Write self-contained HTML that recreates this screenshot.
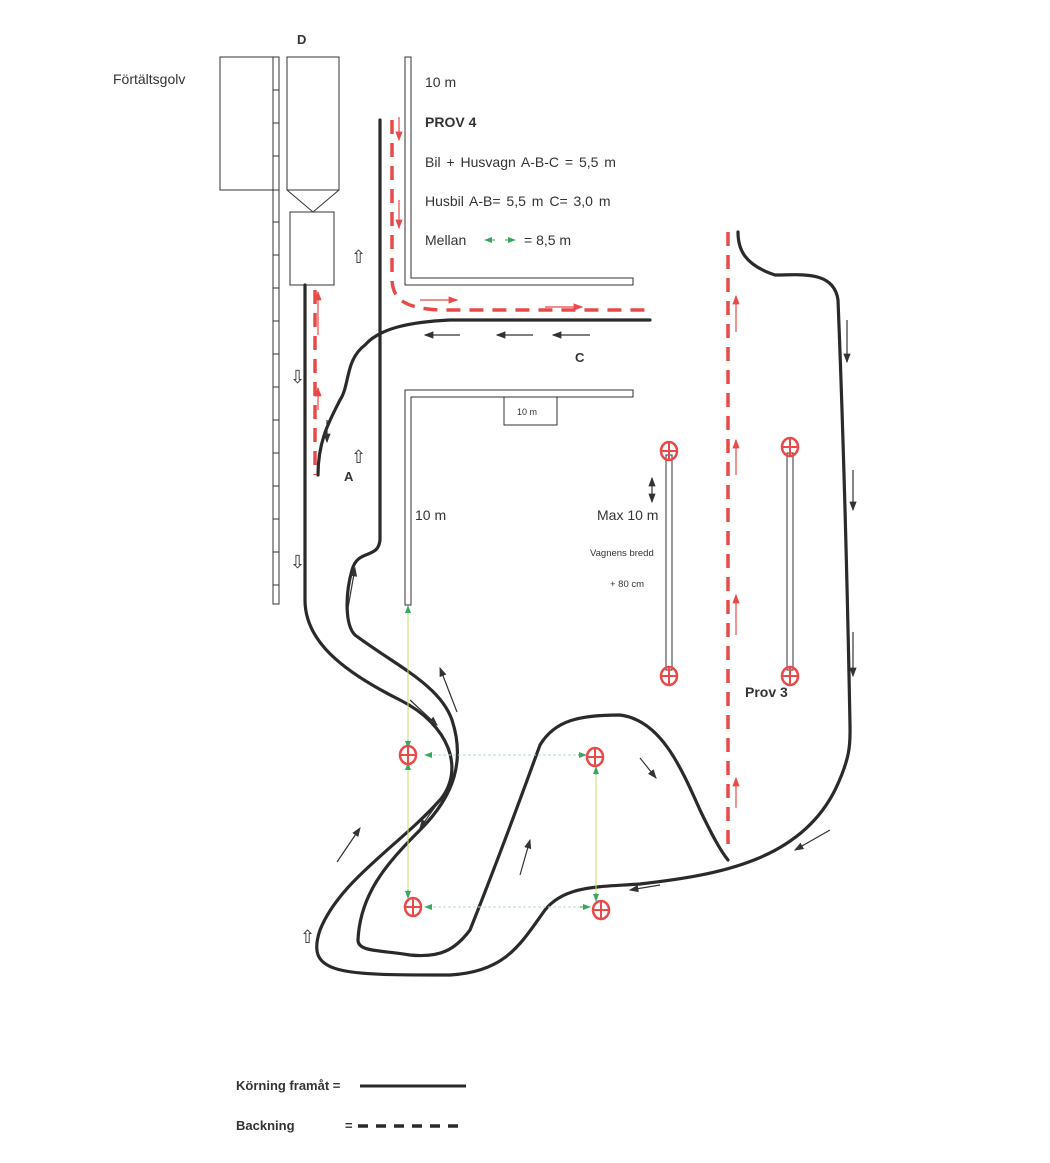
<!DOCTYPE html>
<html><head><meta charset="utf-8"><style>
body{margin:0;background:#fff}
svg{display:block}
text{font-family:"Liberation Sans",sans-serif;fill:#333}
</style></head><body>
<svg width="1050" height="1163" viewBox="0 0 1050 1163" xmlns="http://www.w3.org/2000/svg">
<defs>
<marker id="ab" markerWidth="8" markerHeight="8" refX="7" refY="4" orient="auto"><path d="M0,1 L8,4 L0,7 z" fill="#333"/></marker>
<marker id="ar" markerWidth="8" markerHeight="8" refX="7" refY="4" orient="auto"><path d="M0,1 L8,4 L0,7 z" fill="#e84a4a"/></marker>
<marker id="ag" markerWidth="8" markerHeight="8" refX="7" refY="4" orient="auto"><path d="M0,1 L8,4 L0,7 z" fill="#3aa860"/></marker>
<g id="cp"><ellipse cx="0" cy="0" rx="8" ry="9" fill="none" stroke="#e84a4a" stroke-width="2.5"/><path d="M-8,0H8M0,-9V9" stroke="#e84a4a" stroke-width="2"/></g>
</defs>
<g fill="none" stroke="#333" stroke-width="1">
<rect x="220" y="57" width="53" height="133"/>
<rect x="273" y="57" width="6" height="547"/>
<path d="M273,90h6M273,123h6M273,156h6M273,190h6M273,222h6M273,255h6M273,288h6M273,321h6M273,354h6M273,387h6M273,420h6M273,453h6M273,486h6M273,519h6M273,552h6M273,585h6"/>
<rect x="287" y="57" width="52" height="133"/>
<path d="M287,190 L313,212 L339,190"/>
<rect x="290" y="212" width="44" height="73"/>
<path d="M405,57 H411 V278 H633 V285 H405 Z"/>
<path d="M405,605 H411 V397 H633 V390 H405 Z"/>
<rect x="504" y="397" width="53" height="28"/>
<rect x="666" y="455" width="6" height="215"/>
<rect x="787" y="453" width="6" height="217"/>
</g>
<g fill="none" stroke="#2a2a2a" stroke-width="3.2" stroke-linecap="round">
<path d="M305,285 V600 C305,640 340,670 400,700 C450,725 465,770 440,800 C400,845 340,880 320,930 C305,975 340,975 450,975 C505,972 520,945 545,910 C565,885 600,887 640,884 C720,875 800,860 835,790 C852,755 850,740 850,725 C848,620 844,450 838,300 C834,270 800,275 775,275 C745,265 738,250 738,232"/>
<path d="M318,475 C318,440 330,420 340,400 C350,385 345,360 365,345 C380,328 410,322 450,320 H650"/>
<path d="M380,120 V540 C378,560 358,548 352,570 C345,595 345,625 355,635 C395,665 440,685 452,720 C465,760 455,795 420,830 C385,865 360,895 358,940 C358,952 380,950 410,955 C440,958 455,950 470,930 C490,880 520,800 540,745 C555,720 580,715 620,715 C660,720 680,765 700,810 C712,835 720,850 728,860"/>
</g>
<g fill="none" stroke="#e84a4a" stroke-width="3.5" stroke-dasharray="14,9">
<path d="M392,120 V280 C393,300 405,308 440,310 H650"/>
<path d="M315,290 V475"/>
<path d="M728,232 V845"/>
</g>
<g fill="none" stroke="#c8dc6a" stroke-width="1">
<path d="M408,612 V748"/><path d="M408,765 V898"/><path d="M596,768 V900"/>
</g>
<g fill="none" stroke="#b8d8d0" stroke-width="1" stroke-dasharray="3,2">
<path d="M428,755 H585"/><path d="M428,907 H588"/>
</g>
<g stroke="#3aa860" stroke-width="1" fill="none">
<path d="M408,612 V606" marker-end="url(#ag)"/>
<path d="M408,740 V748" marker-end="url(#ag)"/>
<path d="M408,770 V763" marker-end="url(#ag)"/>
<path d="M408,890 V898" marker-end="url(#ag)"/>
<path d="M432,755 H425" marker-end="url(#ag)"/>
<path d="M578,755 H586" marker-end="url(#ag)"/>
<path d="M432,907 H425" marker-end="url(#ag)"/>
<path d="M580,907 H590" marker-end="url(#ag)"/>
<path d="M596,775 V767" marker-end="url(#ag)"/>
<path d="M596,893 V901" marker-end="url(#ag)"/>
<path d="M495,240 H485" marker-end="url(#ag)"/>
<path d="M505,240 H515" marker-end="url(#ag)"/>
</g>
<use href="#cp" x="408" y="755"/><use href="#cp" x="413" y="907"/>
<use href="#cp" x="595" y="757"/><use href="#cp" x="601" y="910"/>
<use href="#cp" x="669" y="451"/><use href="#cp" x="669" y="676"/>
<use href="#cp" x="790" y="447"/><use href="#cp" x="790" y="676"/>
<g stroke="#333" stroke-width="1.2" fill="none" marker-end="url(#ab)">
<path d="M460,335 H425"/><path d="M533,335 H497"/><path d="M590,335 H553"/>
<path d="M847,320 V362"/><path d="M853,470 V510"/><path d="M853,632 V676"/>
<path d="M652,490 V502"/><path d="M652,490 V478"/>
<path d="M327,420 V442"/>
<path d="M348,608 L355,568"/>
<path d="M410,700 L437,725"/>
<path d="M457,712 L440,668"/>
<path d="M440,800 L420,828"/>
<path d="M337,862 L360,828"/>
<path d="M520,875 L530,840"/>
<path d="M640,758 L656,778"/>
<path d="M660,885 L630,890"/>
<path d="M830,830 L795,850"/>
</g>
<g stroke="#e84a4a" stroke-width="1.2" fill="none" marker-end="url(#ar)">
<path d="M399,117 V140"/><path d="M399,200 V228"/>
<path d="M420,300 H457"/><path d="M545,307 H582"/>
<path d="M318,335 V292"/><path d="M318,410 V388"/>
<path d="M736,332 V296"/><path d="M736,475 V440"/>
<path d="M736,635 V595"/><path d="M736,808 V778"/>
</g>
<g font-size="18" style="font-family:'DejaVu Sans',sans-serif">
<text x="351" y="263">⇧</text><text x="351" y="463">⇧</text>
<text x="290" y="383">⇩</text><text x="290" y="568">⇩</text>
<text x="300" y="943">⇧</text>
</g>
<text x="113" y="84" font-size="14">Förtältsgolv</text>
<text x="297" y="44" font-size="13" font-weight="bold">D</text>
<text x="425" y="87" font-size="14">10 m</text>
<text x="425" y="127" font-size="14" font-weight="bold">PROV 4</text>
<text x="425" y="167" font-size="14" word-spacing="2">Bil + Husvagn  A-B-C = 5,5 m</text>
<text x="425" y="206" font-size="14" word-spacing="2">Husbil A-B= 5,5 m  C= 3,0 m</text>
<text x="425" y="245" font-size="14">Mellan</text>
<text x="524" y="245" font-size="14">= 8,5 m</text>
<text x="575" y="362" font-size="13" font-weight="bold">C</text>
<text x="344" y="481" font-size="13" font-weight="bold">A</text>
<text x="517" y="415" font-size="9">10 m</text>
<text x="415" y="520" font-size="14">10 m</text>
<text x="597" y="520" font-size="14">Max 10 m</text>
<text x="590" y="556" font-size="9.5">Vagnens bredd</text>
<text x="610" y="587" font-size="9.5">+ 80 cm</text>
<text x="745" y="697" font-size="14" font-weight="bold">Prov 3</text>
<text x="236" y="1090" font-size="13" font-weight="bold">Körning framåt =</text>
<path d="M360,1086 H466" stroke="#2a2a2a" stroke-width="3"/>
<text x="236" y="1130" font-size="13" font-weight="bold">Backning</text>
<text x="345" y="1130" font-size="13" font-weight="bold">=</text>
<path d="M358,1126 H466" stroke="#2a2a2a" stroke-width="3.5" stroke-dasharray="10,8"/>
</svg>
</body></html>
